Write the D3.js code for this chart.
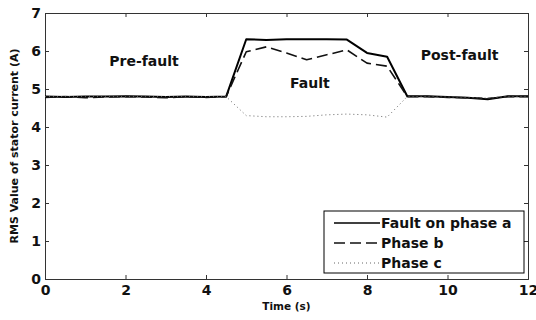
<!DOCTYPE html>
<html lang="en">
	<head>
		<title>RMS stator current</title>
		<script src="https://d3js.org/d3.v7.min.js"></script>
		<style>
			body { margin: 0; background: #fff; }
			text { font-family: "DejaVu Sans", sans-serif; font-weight: bold; fill: #111; }
		</style>
	</head>

	<body>
		<div id="chart"></div>

		<script>

			// time axis (s), sampled every 0.5 s
			time = [0, 0.5, 1, 1.5, 2, 2.5, 3, 3.5, 4, 4.5, 5, 5.5, 6, 6.5, 7, 7.5, 8, 8.5, 9, 9.5, 10, 10.5, 11, 11.5, 12];

			phaseA = [4.80, 4.79, 4.80, 4.80, 4.81, 4.80, 4.79, 4.80, 4.79, 4.80,
			          6.31, 6.29, 6.31, 6.31, 6.31, 6.30, 5.95, 5.85,
			          4.81, 4.81, 4.79, 4.77, 4.73, 4.81, 4.81];
			phaseB = [4.78, 4.80, 4.77, 4.79, 4.80, 4.79, 4.77, 4.80, 4.78, 4.80,
			          5.98, 6.11, 5.95, 5.77, 5.90, 6.03, 5.68, 5.60,
			          4.80, 4.80, 4.78, 4.77, 4.75, 4.80, 4.80];
			phaseC = [4.80, 4.80, 4.80, 4.80, 4.80, 4.80, 4.80, 4.80, 4.80, 4.80,
			          4.30, 4.27, 4.27, 4.28, 4.32, 4.34, 4.32, 4.26,
			          4.80, 4.80, 4.79, 4.78, 4.76, 4.80, 4.80];

			seriesNames = ["Fault on phase a", "Phase b", "Phase c"];
			xTicks = [0, 2, 4, 6, 8, 10, 12];
			yTicks = [0, 1, 2, 3, 4, 5, 6, 7];

			regionLabels = ["Pre-fault", "Fault", "Post-fault"];
			labelX = [2.46, 6.58, 10.3];
			labelY = [5.61, 5.03, 5.76];

			var width = 536, height = 320;
			var margin = {top: 13, right: 8, bottom: 41, left: 45};

			var svg = d3.select("#chart").append("svg")
				.attr("width", width)
				.attr("height", height);

			x = d3.scaleLinear()
				.domain([0, 12])
				.range([margin.left, width - margin.right]);

			y = d3.scaleLinear()
				.domain([0, 7])
				.range([height - margin.bottom, margin.top]);

			var styles = [
				{stroke: "#000", width: 2, dash: null},
				{stroke: "#111", width: 1.6, dash: "11,5"},
				{stroke: "#666", width: 1, dash: "1,3"}
			];
			var values = [phaseA, phaseB, phaseC];

			var line = d3.line()
				.x((d, i) => x(time[i]))
				.y(d => y(d));

			var tickFont = g => g.selectAll("text")
				.style("font-size", "14px")
				.style("font-family", "DejaVu Sans")
				.style("font-weight", "bold")
				.attr("fill", "#111");

			// axes box with inward ticks
			svg.append("g")
				.attr("transform", `translate(0,${y(0)})`)
				.call(d3.axisBottom(x).tickValues(xTicks).tickFormat(d3.format("d")).tickSize(-4).tickPadding(6))
				.call(tickFont);

			svg.append("g")
				.attr("transform", `translate(0,${y(7)})`)
				.call(d3.axisTop(x).tickValues(xTicks).tickSize(-4).tickFormat(""));

			svg.append("g")
				.attr("transform", `translate(${x(0)},0)`)
				.call(d3.axisLeft(y).tickValues(yTicks).tickFormat(d3.format("d")).tickSize(-4).tickPadding(4))
				.call(tickFont);

			svg.append("g")
				.attr("transform", `translate(${x(12)},0)`)
				.call(d3.axisRight(y).tickValues(yTicks).tickSize(-4).tickFormat(""));

			svg.selectAll(".domain").attr("stroke", "#333");
			svg.selectAll(".tick line").attr("stroke", "#333");

			// series
			svg.append("g")
				.selectAll("path")
				.data(values)
				.enter().append("path")
					.attr("d", d => line(d))
					.attr("fill", "none")
					.attr("stroke", (d, i) => styles[i].stroke)
					.attr("stroke-width", (d, i) => styles[i].width)
					.attr("stroke-dasharray", (d, i) => styles[i].dash)
					.attr("stroke-linejoin", "round");

			// region annotations
			svg.append("g")
				.selectAll("text")
				.data(regionLabels)
				.enter().append("text")
					.attr("x", (d, i) => x(labelX[i]))
					.attr("y", (d, i) => y(labelY[i]))
					.attr("text-anchor", "middle")
					.style("font-size", "14px")
					.text(d => d);

			// axis titles
			svg.append("text")
				.attr("x", x(6))
				.attr("y", 310)
				.attr("text-anchor", "middle")
				.style("font-size", "10.5px")
				.text("Time (s)");

			svg.append("text")
				.attr("transform", `translate(18,${(y(0) + y(7)) / 2}) rotate(-90)`)
				.attr("text-anchor", "middle")
				.style("font-size", "11px")
				.text("RMS Value of stator current (A)");

			// legend
			var legend = svg.append("g").attr("transform", "translate(324,211)");
			legend.append("rect")
				.attr("width", 200)
				.attr("height", 62)
				.attr("fill", "#fff")
				.attr("stroke", "#000")
				.attr("stroke-width", 1);

			var rows = legend.selectAll("g.row")
				.data(seriesNames)
				.enter().append("g")
					.attr("class", "row")
					.attr("transform", (d, i) => `translate(0,${12 + i * 20})`);

			rows.append("line")
				.attr("x1", 10).attr("x2", 56)
				.attr("stroke", (d, i) => styles[i].stroke)
				.attr("stroke-width", (d, i) => Math.min(styles[i].width, 1.6))
				.attr("stroke-dasharray", (d, i) => styles[i].dash);

			rows.append("text")
				.attr("x", 57)
				.attr("dy", "0.36em")
				.style("font-size", "14px")
				.text(d => d);

		</script>
	</body>
</html>
